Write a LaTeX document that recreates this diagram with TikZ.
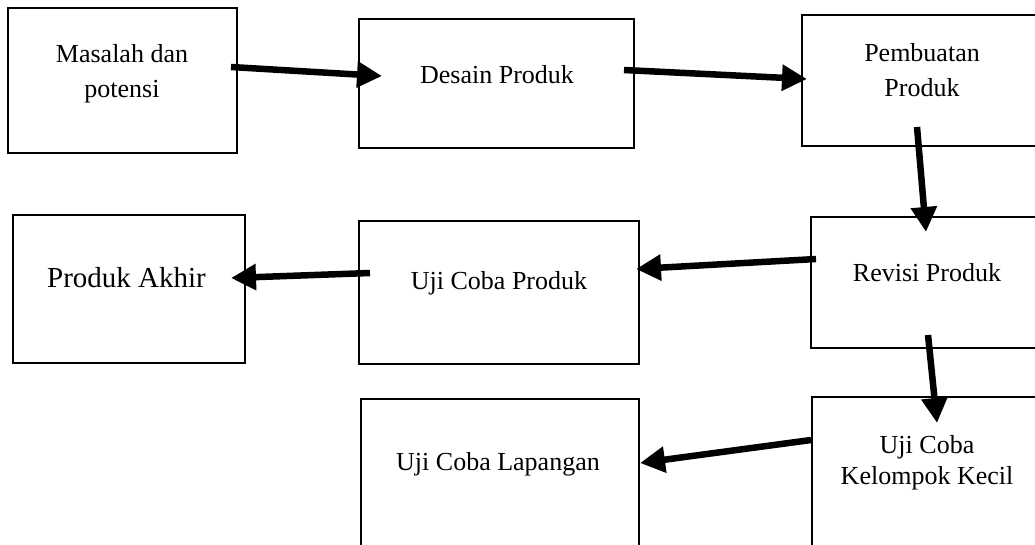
\documentclass[tikz,border=0pt]{standalone}
\usepackage{fontspec}
\setmainfont{Liberation Serif}
\usetikzlibrary{arrows.meta,calc}
\begin{document}
\begin{tikzpicture}[x=1pt,y=-1pt,
  box/.style={draw=black,line width=2pt,rectangle,inner sep=0pt},
  lbl/.style={font=\fontsize{26}{35}\selectfont,align=center,inner sep=0pt},
  arr/.style={line width=6.5pt,-{Triangle[length=25pt,width=25pt]}}]
\useasboundingbox (0,0) rectangle (1035,544);
\clip (0,0) rectangle (1035,544);
% boxes
\node[box,minimum width=229pt,minimum height=145pt] (m) at (122.5,80.5) {};
\node[box,minimum width=275pt,minimum height=129pt] (d) at (496.5,83.5) {};
\node[box,minimum width=240pt,minimum height=131pt] (p) at (922,80.5) {};
\node[box,minimum width=232pt,minimum height=148pt] (a) at (129,289) {};
\node[box,minimum width=280pt,minimum height=143pt] (u) at (499,292.5) {};
\node[box,minimum width=232pt,minimum height=131pt] (r) at (927,282.5) {};
\node[box,minimum width=278pt,minimum height=181pt] (l) at (500,489.5) {};
\node[box,minimum width=230pt,minimum height=183pt] (k) at (927,488.5) {};
% texts
\node[lbl] (tm) at (122,73.4) {Masalah dan\\potensi};
\node[lbl,anchor=base] (td) at (497,83) {Desain Produk};
\node[lbl] (tp) at (922,70.6) {Pembuatan\\Produk};
\node[lbl,anchor=base,font=\fontsize{29}{35}\selectfont] (ta) at (126.5,287) {Produk Akhir};
\node[lbl,anchor=base] (tu) at (499,289) {Uji Coba Produk};
\node[lbl,anchor=base] (tr) at (927,281) {Revisi Produk};
\node[lbl,anchor=base] (tl) at (498,470) {Uji Coba Lapangan};
\node[lbl,font=\fontsize{26}{31}\selectfont] (tk) at (927,462.4) {Uji Coba\\Kelompok Kecil};
% arrows
\draw[arr] ($(m.east)+(-7,-13.5)$) -- ($(d.west)+(24,-7.5)$);
\draw[arr] ($(d.east)+(-11,-13.5)$) -- ($(p.west)+(6,-1.5)$);
\draw[arr] ($(p.south)+(-5,-20)$) -- ($(r.north)+(-1,16)$);
\draw[arr] ($(r.west)+(6,-23.5)$) -- ($(u.east)+(-4,-23.5)$);
\draw[arr] ($(u.west)+(12,-19.5)$) -- ($(a.east)+(-15,-11)$);
\draw[arr] ($(r.south)+(1,-14)$) -- ($(k.north)+(10,27)$);
\draw[arr] ($(k.west)+(0,-48.5)$) -- ($(l.east)+(0,-26.5)$);
\end{tikzpicture}
\end{document}
